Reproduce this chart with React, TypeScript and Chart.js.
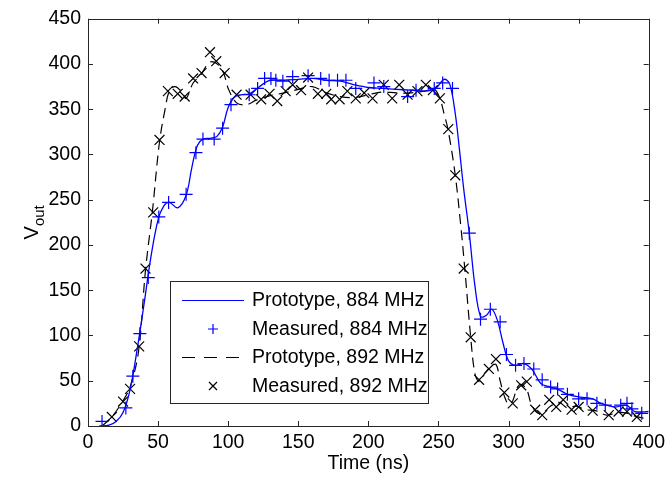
import React, { useEffect, useRef } from 'react';
import { Chart, registerables } from 'chart.js';

Chart.register(...registerables);

const xTicks = [0, 50, 100, 150, 200, 250, 300, 350, 400];
const yTicks = [0, 50, 100, 150, 200, 250, 300, 350, 400, 450];

const proto884X = [8, 15, 20, 25, 30, 35, 40, 45, 50, 54, 58, 64, 70, 74, 78, 82, 88, 92, 96, 100, 105, 110, 115, 120, 125, 130, 140, 150, 160, 170, 180, 190, 200, 210, 220, 230, 240, 248, 254, 258, 262, 265, 268, 272, 276, 280, 284, 288, 292, 296, 300, 305, 311, 317, 323, 330, 336, 342, 351, 360, 366, 376, 384, 390, 400];
const proto884Y = [0, 1, 5, 15, 40, 84, 135, 188, 228, 243, 247, 241, 255, 285, 310, 317, 318, 320, 330, 352, 364, 366, 367, 372, 378, 382, 382, 383, 384, 382, 381, 377, 374, 373, 372, 371, 370, 373, 383, 378, 345, 305, 262, 213, 155, 121, 122, 129, 117, 92, 72, 67, 69, 62, 47, 43, 40, 35, 32, 30, 25, 21, 23, 16, 16];

const meas884X = [10, 27, 32, 37, 43, 50.5, 57.5, 70, 77, 82, 90, 96, 102, 115, 121, 126, 130.5, 134, 139, 146, 157, 166, 172, 178, 184, 191, 204, 211, 228, 234, 247, 253, 260, 272, 280, 287, 294, 298.5, 305, 311, 318, 324, 330, 335, 342, 350, 356, 363, 369, 380, 384.5, 388, 395];
const meas884Y = [5, 20, 55, 102, 164, 231, 247, 256, 302, 317, 317, 329, 355, 366, 373, 384, 384, 382, 381, 386, 387, 384, 382, 382, 382, 373, 379, 375, 364, 371, 373, 379, 373, 213, 118, 129, 115, 79, 67, 69, 63, 51, 43, 41, 35, 30, 30, 25, 23, 23, 25, 19, 14];

const proto892X = [10, 17, 25, 30, 36, 41, 46, 51, 55, 58, 62, 67, 70, 75, 80, 87, 93, 97, 100, 106, 113, 120, 130, 140, 150, 160, 170, 180, 190, 200, 210, 220, 230, 240, 247, 251, 254, 257, 262, 266, 269, 273, 276, 279, 283, 287, 291, 294, 297, 300, 303, 306, 309, 313, 316, 320, 324, 330, 336, 342, 348, 355, 362, 370, 378, 385, 392, 400];
const proto892Y = [0, 10, 28, 43, 82, 172, 238, 314, 350, 370, 375, 369, 362, 379, 387, 402, 399, 389, 373, 357, 355, 360, 365, 368, 372, 375, 368, 364, 363, 366, 369, 368, 368, 370, 372, 362, 345, 326, 277, 220, 170, 98, 58, 49, 58, 65, 68, 50, 33, 24, 28, 42, 46, 40, 25, 15, 14, 22, 26, 20, 22, 18, 17, 12, 15, 14, 10, 8];

const meas892X = [17, 25, 30, 36.5, 41, 46.5, 51, 57, 64, 69, 75, 81, 87, 91.5, 97.5, 106, 116, 123.5, 129.5, 135, 141, 146, 152, 157, 164, 170, 173.5, 179.5, 185, 191, 197, 203, 211, 217, 222, 228, 235, 241, 246, 251, 257, 262, 268, 273, 279, 286, 291, 297, 303, 309, 313, 319, 324, 329, 334, 339, 345, 350, 360, 371.5, 378.5, 384.5, 391.5];
const meas892Y = [10, 27, 41, 88, 174, 236, 316, 370, 367, 364, 384, 390, 413, 403, 390, 366, 366, 361, 367, 359, 370, 377, 371, 385, 367, 367, 361, 361, 370, 362, 368, 362, 377, 362, 377, 366, 370, 377, 371, 362, 328, 277, 174, 98, 51, 63, 74, 37, 25, 45, 49, 18, 12, 29, 21, 29, 18, 21, 17, 12, 16, 16, 10];

const FONT = '"Liberation Sans", Arial, sans-serif';
const FS = 19.5;
const BLUE = '#0000ff';
const BLACK = '#000000';

const zip = (xs: number[], ys: number[]) => xs.map((x, i) => ({ x, y: ys[i] }));

const framePlugin = {
  id: 'frame',
  afterDraw(chart: any) {
    const { ctx, chartArea } = chart;
    const { left, right, top, bottom } = chartArea;
    const xs = chart.scales.x;
    const ys = chart.scales.y;
    ctx.save();
    ctx.strokeStyle = '#262626';
    ctx.lineWidth = 1;
    ctx.beginPath();
    const tl = 5;
    xTicks.forEach((v) => {
      const px = Math.round(xs.getPixelForValue(v)) + 0.5;
      ctx.moveTo(px, bottom);
      ctx.lineTo(px, bottom - tl);
      ctx.moveTo(px, top);
      ctx.lineTo(px, top + tl);
    });
    yTicks.forEach((v) => {
      const py = Math.round(ys.getPixelForValue(v)) + 0.5;
      ctx.moveTo(left, py);
      ctx.lineTo(left + tl, py);
      ctx.moveTo(right, py);
      ctx.lineTo(right - tl, py);
    });
    ctx.stroke();
    ctx.strokeRect(Math.round(left) + 0.5, Math.round(top) + 0.5, Math.round(right - left), Math.round(bottom - top));

    // axis titles
    ctx.fillStyle = '#000';
    ctx.font = `${FS}px ${FONT}`;
    ctx.textAlign = 'center';
    ctx.textBaseline = 'middle';
    ctx.fillText('Time (ns)', (left + right) / 2, 464);

    ctx.translate(38, (top + bottom) / 2);
    ctx.rotate(-Math.PI / 2);
    ctx.textAlign = 'left';
    ctx.textBaseline = 'alphabetic';
    ctx.font = `20px ${FONT}`;
    const wV = ctx.measureText('V').width;
    ctx.font = `15px ${FONT}`;
    const wO = ctx.measureText('out').width;
    const x0 = -(wV + wO) / 2;
    ctx.font = `20px ${FONT}`;
    ctx.fillText('V', x0, 0);
    ctx.font = `15px ${FONT}`;
    ctx.fillText('out', x0 + wV, 6);
    ctx.restore();
  },
};

const legendPlugin = {
  id: 'insideLegend',
  afterDatasetsDraw(chart: any) {
    const { ctx } = chart;
    const bx = 170, by = 281, bw = 258, bh = 122;
    ctx.save();
    ctx.fillStyle = '#ffffff';
    ctx.fillRect(bx, by, bw, bh);
    ctx.strokeStyle = '#262626';
    ctx.lineWidth = 1;
    ctx.strokeRect(bx + 0.5, by + 0.5, bw, bh);
    const rowY = [300, 329, 357, 386];
    chart.data.datasets.forEach((ds: any, i: number) => {
      const y = rowY[i];
      ctx.strokeStyle = ds.borderColor;
      ctx.lineWidth = 1.2;
      if (ds.showLine === false) {
        const cx = 213;
        ctx.beginPath();
        if (ds.pointStyle === 'cross') {
          ctx.moveTo(cx - 5, y); ctx.lineTo(cx + 5, y);
          ctx.moveTo(cx, y - 5); ctx.lineTo(cx, y + 5);
        } else {
          ctx.moveTo(cx - 4, y - 4); ctx.lineTo(cx + 4, y + 4);
          ctx.moveTo(cx - 4, y + 4); ctx.lineTo(cx + 4, y - 4);
        }
        ctx.stroke();
      } else {
        ctx.setLineDash(ds.borderDash && ds.borderDash.length ? [13, 9] : []);
        ctx.beginPath();
        ctx.moveTo(182, y + 0.5);
        ctx.lineTo(244, y + 0.5);
        ctx.stroke();
        ctx.setLineDash([]);
      }
      ctx.fillStyle = '#000';
      ctx.font = `${FS}px ${FONT}`;
      ctx.textAlign = 'left';
      ctx.textBaseline = 'middle';
      ctx.fillText(ds.label, 252, y + 1);
    });
    ctx.restore();
  },
};

export default function App() {
  const ref = useRef<HTMLCanvasElement | null>(null);
  useEffect(() => {
    document.body.style.margin = '0';
    if (!ref.current) return;
    const chart = new Chart(ref.current, {
      type: 'scatter',
      data: {
        datasets: [
          {
            label: 'Prototype, 884 MHz',
            data: zip(proto884X, proto884Y),
            showLine: true,
            borderColor: BLUE,
            backgroundColor: BLUE,
            borderWidth: 1.3,
            pointRadius: 0,
            tension: 0.35,
          },
          {
            label: 'Measured, 884 MHz',
            data: zip(meas884X, meas884Y),
            showLine: false,
            pointStyle: 'cross',
            pointRadius: 6.5,
            borderColor: BLUE,
            backgroundColor: BLUE,
            pointBorderWidth: 1.2,
          },
          {
            label: 'Prototype, 892 MHz',
            data: zip(proto892X, proto892Y),
            showLine: true,
            borderColor: BLACK,
            backgroundColor: BLACK,
            borderWidth: 1.2,
            borderDash: [10, 6],
            pointRadius: 0,
            tension: 0.35,
          },
          {
            label: 'Measured, 892 MHz',
            data: zip(meas892X, meas892Y),
            showLine: false,
            pointStyle: 'crossRot',
            pointRadius: 7,
            borderColor: BLACK,
            backgroundColor: BLACK,
            pointBorderWidth: 1.2,
          },
        ],
      },
      options: {
        responsive: false,
        animation: false,
        layout: { padding: { top: 17, right: 20, left: 0, bottom: 0 } },
        plugins: { legend: { display: false }, tooltip: { enabled: false } },
        scales: {
          x: {
            type: 'linear',
            min: 0,
            max: 400,
            afterFit: (s: any) => { s.height = 54; },
            afterBuildTicks: (s: any) => { s.ticks = xTicks.map((v) => ({ value: v })); },
            grid: { display: false, drawTicks: false },
            border: { display: false },
            ticks: { font: { family: FONT, size: FS }, color: '#000', padding: 5, maxRotation: 0 },
          },
          y: {
            type: 'linear',
            min: 0,
            max: 450,
            afterFit: (s: any) => { s.width = 88; },
            afterBuildTicks: (s: any) => { s.ticks = yTicks.map((v) => ({ value: v })); },
            grid: { display: false, drawTicks: false },
            border: { display: false },
            ticks: { font: { family: FONT, size: FS }, color: '#000', padding: 7 },
          },
        },
      },
      plugins: [legendPlugin, framePlugin],
    });
    return () => chart.destroy();
  }, []);
  return (
    <div style={{ width: 670, height: 480 }}>
      <canvas ref={ref} width={670} height={480} />
    </div>
  );
}
